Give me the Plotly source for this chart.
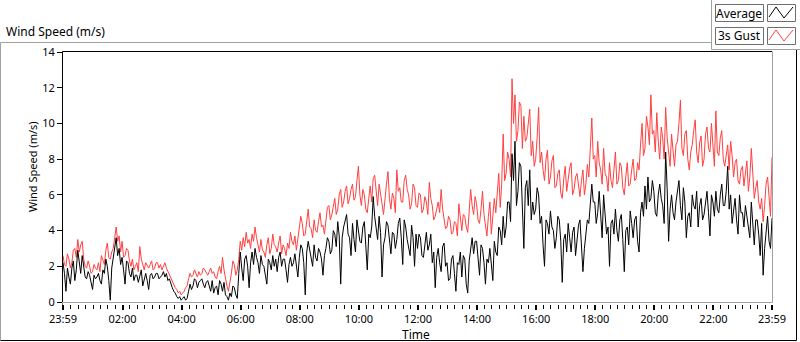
import plotly.graph_objects as go

# ---------------- data (3-minute samples) ----------------
gust = [
    # 23:59 - 02:00
    2.6, 2.1, 2.0, 2.7, 2.4, 1.9, 2.2, 2.9, 3.0, 2.5, 3.5, 2.8, 3.2, 3.4, 2.4, 2.0, 1.9, 2.3, 2.0, 1.6,
    1.7, 2.1, 1.9, 1.8, 2.2, 1.7, 2.6, 2.3, 2.1, 2.9, 3.3, 2.5, 2.4, 2.8, 3.0, 3.6, 4.2, 3.4, 3.7, 2.8,
    # 02:00 - 04:00
    3.4, 2.5, 2.6, 3.0, 2.9, 2.3, 2.0, 2.4, 1.8, 2.0, 2.2, 1.7, 3.1, 2.4, 2.0, 1.8, 2.2, 2.0, 1.9, 2.1,
    2.3, 1.8, 1.9, 2.2, 2.2, 1.9, 2.1, 1.8, 2.0, 2.2, 1.9, 1.7, 1.6, 1.4, 1.2, 1.0, 0.8, 0.7, 0.5, 0.6,
    # 04:00 - 06:00
    0.4, 0.5, 0.6, 0.8, 0.9, 1.3, 1.6, 1.4, 1.5, 1.8, 1.6, 1.4, 1.7, 1.5, 1.6, 1.9, 1.8, 1.6, 1.5, 1.7,
    1.9, 1.6, 1.7, 1.4, 1.3, 1.7, 2.0, 1.6, 2.5, 1.8, 1.2, 0.9, 0.6, 1.0, 1.6, 2.3, 2.1, 1.5, 1.8, 2.4,
    # 06:00 - 08:00
    3.4, 2.9, 3.6, 3.1, 3.9, 3.3, 3.5, 3.0, 3.8, 3.4, 4.2, 3.6, 3.2, 2.8, 3.5, 2.9, 2.8, 2.5, 3.2, 3.6,
    2.7, 3.0, 3.8, 3.2, 3.1, 2.8, 3.3, 3.7, 2.7, 3.2, 3.0, 2.6, 3.3, 3.0, 3.9, 3.4, 3.2, 3.7, 2.9, 3.5,
    # 08:00 - 10:00
    3.9, 4.8, 4.4, 3.7, 3.8, 4.5, 5.2, 4.2, 4.1, 3.6, 4.6, 4.0, 3.9, 4.5, 5.0, 4.2, 4.3, 3.8, 4.7, 5.3,
    5.4, 4.6, 4.9, 5.5, 5.8, 4.9, 5.2, 6.0, 6.3, 5.3, 5.6, 6.2, 6.5, 5.5, 5.8, 6.3, 6.6, 5.7, 5.9, 6.8,
    # 10:00 - 12:00
    7.6, 6.0, 5.4, 6.3, 6.0, 5.2, 5.0, 5.8, 6.5, 5.6, 6.9, 7.1, 6.1, 5.4, 6.6, 5.9, 5.5, 4.9, 6.0, 6.6,
    7.3, 5.8, 5.2, 6.1, 5.8, 5.0, 7.4, 6.2, 6.4, 5.6, 5.6, 6.8, 7.1, 6.3, 6.0, 5.2, 5.5, 6.6, 6.4, 5.4,
    # 12:00 - 14:00
    5.3, 6.1, 6.0, 5.0, 5.2, 5.9, 5.6, 4.9, 6.7, 5.8, 5.4, 4.6, 4.8, 5.3, 5.6, 5.0, 6.3, 5.2, 4.7, 4.1,
    4.2, 4.8, 4.6, 3.8, 3.9, 4.5, 4.4, 3.7, 5.5, 4.6, 4.0, 4.9, 4.8, 4.2, 3.9, 5.1, 6.3, 5.4, 4.9, 5.9,
    # 14:00 - 16:00
    5.5, 4.6, 4.4, 5.2, 6.2, 4.9, 4.3, 3.7, 4.8, 5.6, 3.8, 4.6, 5.8, 5.0, 6.4, 7.2, 5.3, 6.6, 9.4, 6.8,
    7.2, 8.4, 8.0, 7.0, 12.5, 10.0, 11.6, 9.0, 9.6, 11.2, 11.0, 8.6, 10.4, 9.0, 9.2, 10.2, 10.8, 8.2, 9.0, 7.6,
    # 16:00 - 18:00
    8.0, 9.2, 10.9, 7.8, 8.4, 7.4, 6.8, 8.0, 8.5, 6.6, 7.0, 7.9, 8.2, 6.4, 6.5, 7.2, 7.4, 6.1, 5.8, 6.9,
    7.6, 6.2, 6.9, 7.5, 7.8, 6.0, 6.3, 7.0, 7.2, 6.4, 5.9, 6.8, 7.4, 6.0, 6.6, 7.7, 7.0, 8.6, 10.3, 8.0,
    # 18:00 - 20:00
    8.2, 7.0, 9.0, 7.8, 7.4, 6.6, 8.6, 7.2, 7.0, 6.2, 7.8, 6.8, 6.4, 7.4, 8.4, 6.6, 6.8, 7.8, 7.6, 6.4,
    6.0, 7.0, 7.8, 6.5, 6.6, 7.4, 8.0, 6.8, 6.9, 7.8, 7.4, 8.8, 10.0, 8.2, 8.6, 10.4, 9.8, 8.8, 11.6, 9.4,
    # 20:00 - 22:00
    9.6, 8.4, 10.6, 9.0, 8.0, 9.8, 9.2, 8.0, 10.9, 9.2, 8.4, 7.6, 9.4, 8.2, 7.6, 8.8, 9.0, 10.0, 11.3, 8.6,
    8.2, 9.4, 9.6, 8.0, 7.4, 8.4, 8.8, 9.6, 10.2, 8.4, 7.8, 8.9, 9.3, 7.6, 8.0, 9.4, 9.8, 8.6, 8.4, 10.0,
    # 22:00 - 23:59
    8.6, 7.6, 10.7, 8.4, 8.2, 9.2, 9.6, 8.0, 7.6, 8.4, 8.8, 7.4, 9.0, 8.2, 7.0, 7.8, 8.0, 6.8, 6.6, 7.4,
    7.6, 6.5, 7.2, 7.9, 6.2, 7.0, 8.6, 6.8, 5.8, 6.4, 6.8, 5.6, 5.2, 5.8, 4.5, 5.4, 6.6, 7.0, 5.6, 4.8,
    8.1,
]

average = [
    # 23:59 - 02:00
    2.2, 1.6, 0.6, 1.9, 1.4, 1.0, 1.9, 2.3, 1.2, 1.8, 2.9, 2.2, 1.6, 2.6, 2.0, 1.4, 1.3, 1.7, 1.5, 1.1,
    0.7, 1.5, 1.3, 1.4, 1.6, 1.2, 1.0, 1.8, 1.6, 2.4, 2.0, 1.2, 0.1, 1.9, 2.4, 2.9, 3.6, 2.6, 3.0, 2.1,
    # 02:00 - 04:00
    2.5, 1.8, 1.0, 2.3, 2.2, 1.6, 1.4, 1.9, 1.2, 1.5, 1.5, 1.1, 1.4, 1.8, 0.9, 1.3, 1.6, 1.2, 0.7, 1.5,
    1.6, 1.3, 1.4, 1.6, 1.6, 1.3, 1.4, 1.5, 1.7, 1.4, 1.6, 1.2, 1.3, 1.0, 0.8, 0.6, 0.5, 0.3, 0.2, 0.3,
    # 04:00 - 06:00
    0.1, 0.2, 0.3, 0.1, 0.2, 0.6, 1.0, 0.7, 0.9, 1.3, 1.2, 0.8, 1.1, 1.2, 1.3, 1.0, 0.8, 1.1, 1.2, 0.9,
    0.6, 1.2, 0.5, 0.8, 0.9, 0.4, 1.2, 1.0, 0.6, 1.1, 0.4, 0.3, 0.1, 0.5, 0.3, 0.9, 0.8, 0.4, 0.2, 1.6,
    # 06:00 - 08:00
    2.8, 1.9, 1.2, 2.4, 2.6, 2.0, 0.8, 2.2, 2.8, 2.1, 3.0, 2.5, 2.2, 1.6, 2.6, 2.1, 2.0, 1.5, 1.0, 2.4,
    2.2, 1.8, 2.6, 2.0, 2.4, 1.7, 2.5, 2.8, 2.0, 2.4, 2.4, 1.8, 1.1, 2.1, 2.5, 2.0, 2.2, 2.7, 1.9, 1.4,
    # 08:00 - 10:00
    2.5, 3.2, 3.0, 2.2, 0.4, 2.8, 3.4, 2.9, 2.6, 2.0, 3.2, 2.5, 2.3, 3.0, 2.8, 2.4, 1.5, 2.6, 3.0, 3.6,
    3.4, 2.7, 2.9, 4.0, 3.8, 3.1, 4.5, 3.7, 1.0, 3.6, 4.2, 4.6, 4.9, 3.8, 3.6, 2.6, 4.4, 3.5, 2.8, 4.6,
    # 10:00 - 12:00
    4.0, 3.4, 3.3, 4.2, 4.5, 3.0, 1.8, 3.8, 3.6, 4.2, 5.9, 4.8, 4.2, 3.5, 4.8, 3.9, 1.4, 3.2, 3.6, 4.5,
    4.3, 3.4, 2.7, 3.9, 3.8, 3.0, 3.5, 4.4, 4.7, 3.6, 2.1, 4.6, 4.2, 3.5, 3.1, 2.6, 4.3, 3.6, 2.0, 3.8,
    # 12:00 - 14:00
    3.0, 3.8, 3.6, 2.6, 2.5, 3.4, 3.9, 2.9, 3.2, 3.8, 2.2, 2.8, 0.8, 2.5, 3.0, 2.2, 1.7, 3.1, 3.3, 2.0,
    2.2, 1.2, 1.3, 2.4, 2.6, 1.6, 0.6, 2.2, 2.1, 2.8, 1.4, 2.6, 2.4, 1.0, 0.5, 2.3, 3.0, 3.6, 2.7, 3.4,
    # 14:00 - 16:00
    3.4, 2.6, 1.5, 3.2, 3.0, 2.2, 1.0, 2.4, 2.2, 3.0, 2.0, 1.2, 3.4, 2.8, 2.6, 4.2, 4.0, 3.2, 4.8, 3.6,
    4.2, 5.6, 5.6, 4.5, 8.3, 6.8, 9.0, 5.4, 6.2, 7.8, 7.6, 5.2, 3.0, 6.4, 6.8, 5.4, 7.4, 4.6, 5.6, 4.9,
    # 16:00 - 18:00
    5.2, 6.4, 6.0, 4.4, 4.8, 3.2, 2.0, 4.6, 4.4, 3.8, 5.1, 4.2, 4.0, 3.0, 3.6, 4.8, 4.6, 3.4, 1.1, 3.5,
    3.8, 2.8, 4.4, 3.6, 2.8, 3.9, 4.2, 2.6, 3.4, 4.3, 4.6, 3.2, 1.7, 3.0, 3.9, 4.6, 4.4, 5.4, 6.6, 5.6,
    # 18:00 - 20:00
    5.6, 4.4, 5.0, 6.2, 4.7, 3.6, 6.0, 4.8, 3.8, 4.2, 2.0, 4.4, 4.6, 3.8, 5.2, 4.0, 3.4, 4.6, 4.9, 3.5,
    1.7, 4.0, 4.2, 3.2, 5.1, 4.4, 3.6, 4.6, 4.8, 3.4, 2.8, 5.0, 5.6, 4.8, 6.5, 5.2, 7.0, 5.6, 5.8, 6.8,
    # 20:00 - 22:00
    6.2, 5.0, 4.8, 6.0, 6.6, 5.8, 5.4, 4.4, 8.4, 6.4, 3.4, 5.2, 6.0, 5.0, 4.6, 5.6, 6.2, 6.8, 5.4, 4.6,
    6.4, 5.6, 3.6, 4.8, 5.0, 4.2, 6.0, 5.4, 5.2, 6.2, 4.2, 5.4, 5.8, 4.6, 4.9, 5.6, 6.2, 5.0, 3.7, 6.0,
    # 22:00 - 23:59
    5.6, 4.8, 6.2, 5.2, 5.0, 6.0, 6.6, 5.4, 5.4, 6.2, 7.6, 5.2, 6.0, 4.4, 5.2, 5.8, 4.6, 3.8, 6.0, 5.0,
    5.0, 4.2, 5.4, 4.8, 4.4, 3.6, 5.6, 4.0, 3.2, 4.6, 4.6, 3.8, 2.6, 4.4, 1.5, 3.0, 4.2, 4.8, 3.4, 3.0,
    4.7,
]

time_min = [3 * i for i in range(len(gust))]  # minutes after 23:59, one sample every 3 min

tick_minutes = [0, 121, 241, 361, 481, 601, 721, 841, 961, 1081, 1201, 1321, 1440]
tick_labels = ["23:59", "02:00", "04:00", "06:00", "08:00", "10:00", "12:00",
               "14:00", "16:00", "18:00", "20:00", "22:00", "23:59"]
minor_minutes = [m for m in range(1, 1440, 15)]
y_ticks = [0, 2, 4, 6, 8, 10, 12, 14]

series_names = ["Average", "3s Gust"]

# ---------------- layout geometry (pixels) ----------------
W, H = 800, 342
L, R, T, B = 63, 772, 52, 302
FONT = "Noto Sans"


def px(x):
    return (x - L) / (R - L)


def py(y):
    return (B - y) / (B - T)


fig = go.Figure()
fig.add_trace(go.Scatter(x=time_min, y=gust, mode="lines", name=series_names[1],
                         line=dict(color="#ff4040", width=1), showlegend=False))
fig.add_trace(go.Scatter(x=time_min, y=average, mode="lines", name=series_names[0],
                         line=dict(color="#000000", width=1), showlegend=False))

shapes = []


def line(x0, y0, x1, y1, color, width=1):
    shapes.append(dict(type="line", xref="paper", yref="paper",
                       x0=px(x0), y0=py(y0), x1=px(x1), y1=py(y1),
                       line=dict(color=color, width=width), layer="above"))


# outer frame (recessed look)
line(0.5, 42.5, 711.5, 42.5, "#a0a0a0")
line(0.5, 42.5, 0.5, 340.5, "#a0a0a0")
line(0.5, 340.5, 796.5, 340.5, "#000000")
line(796.5, 49.5, 796.5, 340.5, "#000000")
# legend panel edges
line(711.5, 0, 711.5, 49.5, "#a0a0a0")
line(711.5, 49.5, 800, 49.5, "#a0a0a0")
# plot area border
line(L - 0.5, T - 0.5, R, T - 0.5, "#000000")
line(L - 0.5, T - 0.5, L - 0.5, B, "#000000")
line(R + 0.5, T - 0.5, R + 0.5, B + 0.5, "#a0a0a0")
line(L - 0.5, B + 0.5, R + 0.5, B + 0.5, "#a0a0a0")
# small gap between axis line and x ticks
shapes.append(dict(type="rect", xref="paper", yref="paper",
                   x0=px(L - 0.5), x1=px(R + 3), y0=py(303), y1=py(305),
                   fillcolor="white", line=dict(width=0), layer="above"))

# legend boxes
annotations = []
leg_rows = [(4, 21, "#000000", series_names[0]), (27, 44, "#ff4040", series_names[1])]
for (y0, y1, col, name) in leg_rows:
    for (x0, x1) in [(715, 763), (767, 795)]:
        shapes.append(dict(type="rect", xref="paper", yref="paper",
                           x0=px(x0 + 0.5), x1=px(x1 + 0.5), y0=py(y0 + 0.5), y1=py(y1 + 0.5),
                           fillcolor="white", line=dict(color="#6e6e6e", width=1), layer="above"))
    pts = [(769, y1 - 4), (776, y0 + 3), (784, y1 - 3), (793, y0 + 3)]
    path = "M " + " L ".join(f"{px(a)},{py(b)}" for a, b in pts)
    shapes.append(dict(type="path", xref="paper", yref="paper", path=path,
                       line=dict(color=col, width=1), layer="above"))
    annotations.append(dict(x=px(739), y=py((y0 + y1) / 2 + 0.5), xref="paper", yref="paper",
                            text=name, showarrow=False, xanchor="center", yanchor="middle",
                            font=dict(family=FONT, size=12, color="#000000")))

annotations.append(dict(x=px(4), y=py(32), xref="paper", yref="paper", text="Wind Speed (m/s)",
                        showarrow=False, xanchor="left", yanchor="middle",
                        font=dict(family=FONT, size=12, color="#000000")))
annotations.append(dict(x=px(32), y=py(167), xref="paper", yref="paper", text="Wind Speed (m/s)",
                        showarrow=False, xanchor="center", yanchor="middle", textangle=-90,
                        font=dict(family=FONT, size=11, color="#000000")))
annotations.append(dict(x=px(416), y=py(334), xref="paper", yref="paper", text="Time",
                        showarrow=False, xanchor="center", yanchor="middle",
                        font=dict(family=FONT, size=12, color="#000000")))

fig.update_layout(
    width=W, height=H,
    margin=dict(l=L, r=W - R, t=T, b=H - B, pad=0),
    paper_bgcolor="white", plot_bgcolor="white",
    showlegend=False,
    shapes=shapes, annotations=annotations,
    font=dict(family=FONT, size=11, color="#000000"),
    xaxis=dict(range=[0, 1440], showgrid=False, zeroline=False, showline=False,
               tickmode="array", tickvals=tick_minutes, ticktext=tick_labels,
               ticks="outside", ticklen=7, tickwidth=2, tickcolor="#000000",
               minor=dict(tickmode="array", tickvals=minor_minutes, ticks="outside",
                          ticklen=6, tickwidth=1, tickcolor="#000000"),
               tickfont=dict(family=FONT, size=11, color="#000000"), fixedrange=True),
    yaxis=dict(range=[0, 14], showgrid=False, zeroline=False, showline=False,
               tickmode="array", tickvals=y_ticks, ticks="outside", ticklen=5,
               tickwidth=1, tickcolor="#000000",
               tickfont=dict(family=FONT, size=11, color="#000000"), fixedrange=True),
)

fig.write_html("out.html", config={"displayModeBar": False},
               post_script="document.body.style.margin='0';document.body.style.overflow='hidden';")
